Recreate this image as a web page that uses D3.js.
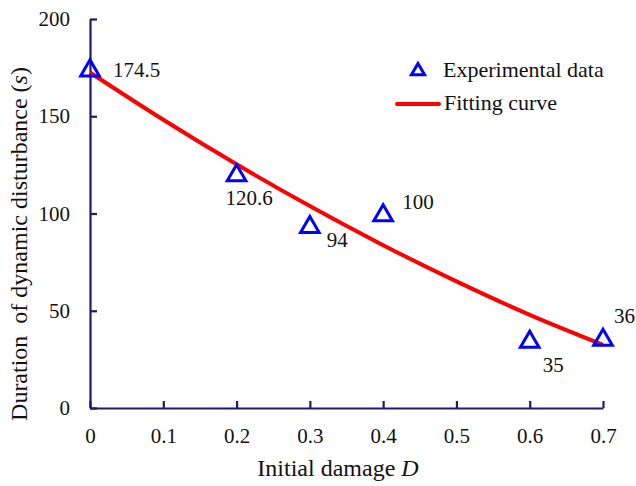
<!DOCTYPE html>
<html>
<head>
<meta charset="utf-8">
<script src="https://cdn.jsdelivr.net/npm/d3@7"></script>
<style>
  html, body { margin: 0; padding: 0; background: #fff; }
  svg { display: block; }
  text { font-family: "Liberation Serif", "Times New Roman", serif; fill: #111; }
</style>
</head>
<body>
<svg id="chart" width="636" height="486"></svg>
<script>
// Experimental measurements: initial damage D vs duration of dynamic disturbance (s)
const damage = [0, 0.2, 0.3, 0.4, 0.6, 0.7];
const duration = [174.5, 120.6, 94, 100, 35, 36];
const valueLabels = ["174.5", "120.6", "94", "100", "35", "36"];
// label offsets (dx, dy) relative to each point, in px
const labelOffsetX = [23, -11, 17, 19, 13, 11];
const labelOffsetY = [8, 32, 22, -5, 32, -15];

// Fitting curve sampled along D
const fitD = [0, 0.1, 0.2, 0.3, 0.4, 0.5, 0.6, 0.7];
const fitDuration = [172.5, 148.2, 125.3, 103.8, 83.7, 65.1, 47.9, 32.5];

const xTicks = [0, 0.1, 0.2, 0.3, 0.4, 0.5, 0.6, 0.7];
const yTicks = [0, 50, 100, 150, 200];

const svg = d3.select("#chart");
const axisColor = "#1c1c6b";
const tickFont = 21, labelFont = 21, legendFont = 22, titleFont = 24;

const x = d3.scaleLinear().domain([0, 0.7]).range([90, 603]);
const y = d3.scaleLinear().domain([0, 200]).range([408, 19]);

// Axes with inward ticks
const xAxis = svg.append("g")
  .attr("transform", `translate(0,${y(0)})`)
  .call(d3.axisBottom(x).tickValues(xTicks).tickSize(-7).tickSizeOuter(0)
    .tickFormat(d => d === 0 ? "0" : d3.format(".1f")(d)).tickPadding(20));
const yAxis = svg.append("g")
  .attr("transform", `translate(${x(0)},0)`)
  .call(d3.axisLeft(y).tickValues(yTicks).tickSize(-7).tickSizeOuter(0).tickPadding(20));

[xAxis, yAxis].forEach(g => {
  g.select(".domain").attr("stroke", axisColor).attr("stroke-width", 2.2);
  g.selectAll(".tick line").attr("stroke", axisColor).attr("stroke-width", 2.2);
  g.selectAll(".tick text")
    .style("font-family", '"Liberation Serif", serif')
    .style("font-size", tickFont + "px")
    .attr("fill", "#111");
});

// Fitting curve
const line = d3.line().x((d, i) => x(fitD[i])).y(d => y(d)).curve(d3.curveMonotoneX);
svg.append("path")
  .datum(fitDuration)
  .attr("d", line)
  .attr("fill", "none")
  .attr("stroke", "#ff0000")
  .attr("stroke-width", 4)
  .attr("stroke-linecap", "butt");

// Triangle markers (nudged so the bounding box centres on the point)
const tri = d3.symbol().type(d3.symbolTriangle).size(150);
svg.append("g").selectAll("path")
  .data(duration)
  .join("path")
  .attr("d", tri)
  .attr("transform", (d, i) => `translate(${x(damage[i])},${y(d) + 2})`)
  .attr("fill", "none")
  .attr("stroke", "#0000ff")
  .attr("stroke-width", 3);

// Value labels
svg.append("g").selectAll("text")
  .data(duration)
  .join("text")
  .attr("x", (d, i) => x(damage[i]) + labelOffsetX[i])
  .attr("y", (d, i) => y(d) + labelOffsetY[i])
  .style("font-size", labelFont + "px")
  .text((d, i) => valueLabels[i]);

// Legend
const legend = svg.append("g");
legend.append("path")
  .attr("d", d3.symbol().type(d3.symbolTriangle).size(75))
  .attr("transform", "translate(418,71)")
  .attr("fill", "none").attr("stroke", "#0000ff").attr("stroke-width", 3);
legend.append("text").attr("x", 443).attr("y", 77).style("font-size", legendFont + "px").text("Experimental data");
legend.append("line")
  .attr("x1", 397).attr("x2", 439).attr("y1", 104).attr("y2", 104)
  .attr("stroke", "#ff0000").attr("stroke-width", 4).attr("stroke-linecap", "round");
legend.append("text").attr("x", 444).attr("y", 110).style("font-size", legendFont + "px").text("Fitting curve");

// Axis titles
const xTitle = svg.append("text")
  .attr("x", 338).attr("y", 476)
  .attr("text-anchor", "middle")
  .style("font-size", titleFont + "px");
xTitle.append("tspan").text("Initial damage ");
xTitle.append("tspan").style("font-style", "italic").text("D");

const yTitle = svg.append("text")
  .attr("transform", "translate(27,244) rotate(-90)")
  .attr("text-anchor", "middle")
  .attr("xml:space", "preserve")
  .style("white-space", "pre")
  .style("font-size", titleFont + "px");
yTitle.append("tspan").text("Duration  of dynamic disturbance (");
yTitle.append("tspan").style("font-style", "italic").text("s");
yTitle.append("tspan").text(")");
</script>
</body>
</html>
